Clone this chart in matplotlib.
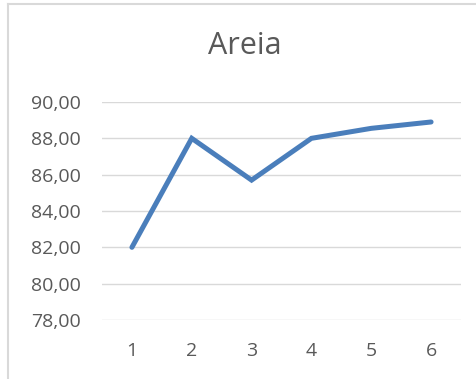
import matplotlib
matplotlib.use("Agg")
import matplotlib.pyplot as plt
from matplotlib.lines import Line2D
from matplotlib.ticker import FuncFormatter

categories = [1, 2, 3, 4, 5, 6]
values = [82.0, 88.0, 85.7, 88.0, 88.55, 88.9]
yticks = [78, 80, 82, 84, 86, 88, 90]
title = "Areia"

W, H = 476, 379
fig = plt.figure(figsize=(W/100, H/100), dpi=100)
plt.rcParams['font.family'] = ['Open Sans', 'DejaVu Sans']

ax = fig.add_axes([102/W, 1-320/H, (461-102)/W, (320-102)/H])
x = list(range(len(categories)))
ax.plot(x, values, color='#4a7ebb', lw=3.6, solid_capstyle='round', solid_joinstyle='miter', zorder=3)
ax.set_xlim(-0.5, len(categories)-0.5)
ax.set_ylim(78, 90)
ax.set_yticks(yticks)
ax.yaxis.set_major_formatter(FuncFormatter(lambda v, p: f"{v:.2f}".replace('.', ',')))
ax.set_xticks(x)
ax.set_xticklabels([str(c) for c in categories])
ax.grid(axis='y', color='#d9d9d9', lw=1)
ax.set_axisbelow(True)
for s in ax.spines.values():
    s.set_visible(False)
ax.tick_params(length=0, labelsize=14, colors='#595959')
ax.tick_params(axis='x', pad=16)
ax.tick_params(axis='y', pad=15)

fig.text(245/W, 1-46/H, title, ha='center', va='center', fontsize=22, color='#595959')

fig.add_artist(Line2D([7.5/W, 7.5/W], [0, 1-3.5/H], color='#d9d9d9', lw=1.5, transform=fig.transFigure))
fig.add_artist(Line2D([7.5/W, 1], [1-3.5/H, 1-3.5/H], color='#d9d9d9', lw=1.5, transform=fig.transFigure))

fig.savefig("out.png", dpi=100)
